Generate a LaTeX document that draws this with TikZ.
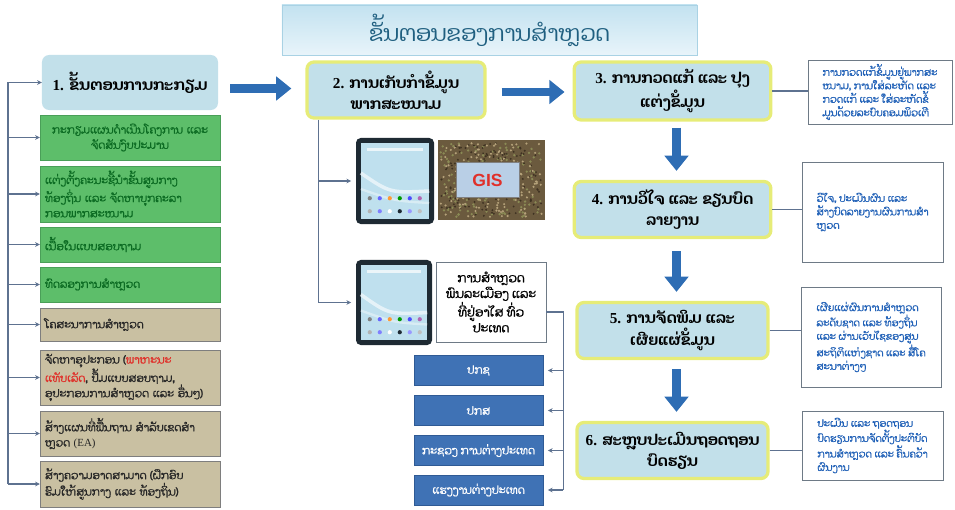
\documentclass[tikz,border=0pt]{standalone}
\usepackage{fontspec}
\setmainfont{Liberation Serif}
\newfontfamily\laofont[Script=Lao]{Dhyana}
\newfontfamily\laothick[Script=Lao,FakeBold=1.2]{Dhyana}
\usetikzlibrary{arrows.meta,calc}
\definecolor{titletop}{HTML}{C3E2F0}
\definecolor{titlebot}{HTML}{E8F4FA}
\definecolor{titleedge}{HTML}{A9D2E4}
\definecolor{titletext}{HTML}{1F5F80}
\definecolor{stepfill}{HTML}{C2E0EA}
\definecolor{stepedge}{HTML}{E6EC78}
\definecolor{greenfill}{HTML}{5DBE6A}
\definecolor{greenedge}{HTML}{4A9F58}
\definecolor{greentext}{HTML}{0B6B22}
\definecolor{tanfill}{HTML}{C9C0A2}
\definecolor{tanedge}{HTML}{7E7E7E}
\definecolor{laored}{HTML}{E0302A}
\definecolor{bluefill}{HTML}{3F72B5}
\definecolor{blueedge}{HTML}{2F5A94}
\definecolor{desctext}{HTML}{2262B8}
\definecolor{descedge}{HTML}{6E7A86}
\definecolor{arrowblue}{HTML}{2E6DB4}
\definecolor{linecol}{HTML}{5E7290}
\definecolor{bezel}{HTML}{1E2A33}
\definecolor{screenblue}{HTML}{BFE0EE}
\definecolor{gisbase}{HTML}{6B5A3E}
\definecolor{gisA}{HTML}{8A8A55}
\definecolor{gisB}{HTML}{3E3222}
\definecolor{gisC}{HTML}{B5A27A}
\definecolor{gislabel}{HTML}{B9CFE6}

\begin{document}
\begin{tikzpicture}[x=0.03cm,y=-0.03cm,>={Stealth[length=4pt,width=4pt]},
  stepbox/.style={rounded corners=6pt,fill=stepfill,draw=stepedge,line width=2.8pt,
    align=center,font=\laofont\fontsize{13}{18}\selectfont\bfseries,minimum width=5.9cm,minimum height=1.68cm},
  prepbox/.style={rounded corners=6pt,fill=stepfill,align=center,
    font=\laofont\fontsize{13}{18}\selectfont\bfseries,minimum width=5.28cm,minimum height=1.65cm},
  greenbox/.style={fill=greenfill,draw=greenedge,text=greentext,align=left,text width=5.1cm,
    font=\laothick\fontsize{9.3}{13}\selectfont,minimum width=5.4cm},
  tanbox/.style={fill=tanfill,draw=tanedge,text=black!85,align=left,text width=5.1cm,
    font=\laothick\fontsize{9.3}{13}\selectfont,minimum width=5.4cm},
  bluebox/.style={fill=bluefill,draw=blueedge,text=white,font=\laothick\fontsize{9.5}{12}\selectfont,
    minimum width=3.87cm,minimum height=0.9cm},
  descbox/.style={fill=white,draw=descedge,text=desctext,align=left,
    font=\laothick\fontsize{8.5}{11.5}\selectfont,minimum width=4.2cm},
  tablet/.style={fill=bezel,rounded corners=4pt,minimum width=2.34cm,minimum height=2.58cm},
  bigarrow/.style={draw=arrowblue,line width=7.5pt,-{Triangle[length=13pt,width=20pt]}},
  thinline/.style={draw=linecol,line width=0.9pt}]
\useasboundingbox (0,0) rectangle (955,510);

\node[top color=titletop,bottom color=titlebot,draw=titleedge,minimum width=12.45cm,minimum height=1.5cm,
  text=titletext,font=\laofont\fontsize{19}{22}\selectfont] (title) at (489.5,30) {ຂັ້ນຕອນຂອງການສຳຫຼວດ};

\node[prepbox] (prep) at (130,82.5) {{\rmfamily 1.} ຂັ້ນຕອນການກະກຽມ};
\node[greenbox,align=center,minimum height=1.35cm] (gA) at (130,137.5) {ກະກຽມແຜນດຳເນີນໂຄງການ ແລະ\\ຈັດສັນງົບປະມານ};
\node[greenbox,minimum height=1.68cm] (gB) at (130,194) {ແຕ່ງຕັ້ງຄະນະຊີ້ນຳຂັ້ນສູນກາງ\\ທ້ອງຖິ່ນ ແລະ ຈັດຫາບຸກຄະລາ\\ກອນພາກສະໜາມ};
\node[greenbox,minimum height=1.05cm] (gC) at (130,244.5) {ເນື້ອໃນແບບສອບຖາມ};
\node[greenbox,minimum height=1.05cm] (gD) at (130,284.5) {ທົດລອງການສຳຫຼວດ};
\node[tanbox,minimum height=0.99cm] (tA) at (130,324.5) {ໂຄສະນາການສຳຫຼວດ};
\node[tanbox,minimum height=1.65cm] (tB) at (130,377.5) {ຈັດຫາອຸປະກອນ ({\color{laored}ພາຫະນະ\\ແທັບເລັດ}, ປຶ້ມແບບສອບຖາມ,\\ອຸປະກອນການສຳຫຼວດ ແລະ ອື່ນໆ)};
\node[tanbox,minimum height=1.35cm] (tC) at (130,433.5) {ສ້າງແຜນທີ່ພື້ນຖານ ສຳລັບເຂດສຳ\\ຫຼວດ {\rmfamily (EA)}};
\node[tanbox,minimum height=1.38cm] (tD) at (130,484) {ສ້າງຄວາມອາດສາມາດ (ຝຶກອົບ\\ຮົມໃຫ້ສູນກາງ ແລະ ທ້ອງຖິ່ນ)};

\coordinate (lspine) at (8,87);
\draw[thinline] (lspine|-prep.west) -- (lspine|-tD.west);
\foreach \b in {prep,gA,gB,gC,gD,tA,tB,tC,tD}
  \draw[thinline,->] (lspine|-\b.west) -- (\b.west);

\node[stepbox,minimum width=5.34cm] (coll) at (396,90) {{\rmfamily 2.} ການເກັບກຳຂໍ້ມູນ\\ພາກສະໜາມ};
\node[stepbox,minimum height=1.74cm] (sC) at (672.5,91) {{\rmfamily 3.} ການກວດແກ້ ແລະ ປຸງ\\ແຕ່ງຂໍ້ມູນ};
\node[stepbox] (sD) at (672.5,209.5) {{\rmfamily 4.} ການວິໄຈ ແລະ ຂຽນບົດ\\ລາຍງານ};
\node[stepbox,minimum width=5.73cm] (sE) at (672.5,330.5) {{\rmfamily 5.} ການຈັດພິມ ແລະ\\ເຜີຍແຜ່ຂໍ້ມູນ};
\node[stepbox,minimum width=5.73cm] (sF) at (672.5,450.5) {{\rmfamily 6.} ສະຫຼຸບປະເມີນຖອດຖອນ\\ບົດຮຽນ};

\draw[bigarrow] ($(prep.east)+(12,6)$) -- ($(prep.east -| coll.west)+(-14,6)$);
\draw[bigarrow] ($(coll.east)+(15,2)$) -- ($(coll.east -| sC.west)+(-8,2)$);
\draw[bigarrow] ($(sC.south)+(4,6)$) -- ($(sD.north)+(4,-9)$);
\draw[bigarrow] ($(sD.south)+(4,12)$) -- ($(sE.north)+(4,-9)$);
\draw[bigarrow] ($(sE.south)+(4,9)$) -- ($(sF.north)+(4,-9)$);

\node[descbox,minimum width=4.32cm,minimum height=1.8cm] (dC) at (880,92) {ການກວດແກ້ຂໍ້ມູນຢູ່ພາກສະ\\ໜາມ, ການໃສ່ລະຫັດ ແລະ\\ກວດແກ້ ແລະ ໃສ່ລະຫັດຂໍ້\\ມູນດ້ວຍລະບົບຄອມພິວເຕີ};
\node[descbox,minimum width=4.23cm,minimum height=3cm] (dD) at (872.5,212) {ວິໄຈ, ປະເມີນຜົນ ແລະ\\ສ້າງບົດລາຍງານຜົນການສຳ\\ຫຼວດ};
\node[descbox,minimum height=3cm] (dE) at (871,337) {ເຜີຍແຜ່ຜົນການສຳຫຼວດ\\ລະດັບຊາດ ແລະ ທ້ອງຖິ່ນ\\ແລະ ຜ່ານເວັບໄຊຂອງສູນ\\ສະຖິຕິແຫ່ງຊາດ ແລະ ສື່ໂຄ\\ສະນາຕ່າງໆ};
\node[descbox,minimum width=4.23cm,minimum height=2.07cm] (dF) at (872.5,445.5) {ປະເມີນ ແລະ ຖອດຖອນ\\ບົດຮຽນການຈັດຕັ້ງປະຕິບັດ\\ການສຳຫຼວດ ແລະ ຄົ້ນຄວ້າ\\ຜົນງານ};
\foreach \s/\d in {sC/dC,sD/dD,sE/dE,sF/dF}
  \draw[thinline] (\s.east) -- (\s.east -| \d.west);

\node[tablet] (tabA) at (395,181) {};
\node[tablet,minimum width=2.28cm,minimum height=2.55cm] (tabB) at (394,302.5) {};
\foreach \t in {tabA,tabB}{
  \fill[screenblue] ($(\t.north west)+(5,5)$) rectangle ($(\t.south east)+(-5,-5)$);
  \fill[white,opacity=.7] ($(\t.north west)+(11,10)$) rectangle ($(\t.north east)+(-11,13)$);
  \draw[white,opacity=.6,line width=3pt] ($(\t.west)+(5,-8)$) .. controls ($(\t.center)+(-5,12)$) .. ($(\t.east)+(-5,10)$);
  \draw[white,opacity=.4,line width=2pt] ($(\t.west)+(5,8)$) .. controls ($(\t.center)+(0,20)$) .. ($(\t.east)+(-5,22)$);
  \foreach \i/\c in {0/gray,1/blue!60,2/orange!80,3/green!60!black,4/blue!70,5/violet!60}
    \fill[\c] ($(\t.south west)+(14+\i*10,-26)$) circle (1.8pt);
  \foreach \i/\c in {0/gray!60,1/blue!50,2/white,3/bezel,4/blue!40,5/gray!50}
    \fill[\c] ($(\t.south west)+(14+\i*10,-13)$) circle (1.8pt);
}

\node[fill=gisbase,minimum width=3.21cm,minimum height=2.4cm] (gisimg) at (491.5,180) {};
\pgfmathsetseed{7}
\foreach \c/\r in {gisA/1.1,gisB/0.9,gisC/1.0}
  \foreach \k in {1,...,150}{
    \pgfmathsetmacro\gx{3+rnd*101}
    \pgfmathsetmacro\gy{3+rnd*74}
    \fill[\c] ($(gisimg.north west)+(\gx,\gy)$) circle (\r pt);
  }
\node[fill=gislabel,draw=gray,minimum width=1.9cm,minimum height=1.05cm,text=laored,
  font=\fontsize{15}{15}\selectfont] (gislbl) at ($(gisimg.center)+(-4,0)$) {\fontspec{Liberation Sans}\bfseries GIS};

\node[fill=white,draw=descedge,align=center,minimum width=3.3cm,minimum height=2.4cm,
  font=\laothick\fontsize{10.5}{13.5}\selectfont] (census) at (491,302) {ການສຳຫຼວດ\\ພົນລະເມືອງ ແລະ\\ທີ່ຢູ່ອາໄສ ທົ່ວ\\ປະເທດ};
\node[bluebox] (bA) at (478.5,370.5) {ປກຊ};
\node[bluebox] (bB) at (478.5,410.5) {ປກສ};
\node[bluebox] (bC) at (478.5,450.5) {ກະຊວງ ການຕ່າງປະເທດ};
\node[bluebox] (bD) at (478.5,490) {ແຮງງານຕ່າງປະເທດ};

\coordinate (cspine) at ($(coll.south west)+(13,0)$);
\draw[thinline] (cspine) -- (cspine|-tabB.west);
\foreach \t in {tabA,tabB}
  \draw[thinline,->,shorten >=4pt] (cspine|-\t.west) -- (\t.west);

\coordinate (rspine) at ($(census.east)+(17,10)$);
\draw[thinline] ($(census.east)+(0,10)$) -- (rspine) -- (rspine|-bD.east);
\foreach \b in {bA,bB,bC,bD}
  \draw[thinline,->,shorten >=4pt] (rspine|-\b.east) -- (\b.east);
\end{tikzpicture}
\end{document}
